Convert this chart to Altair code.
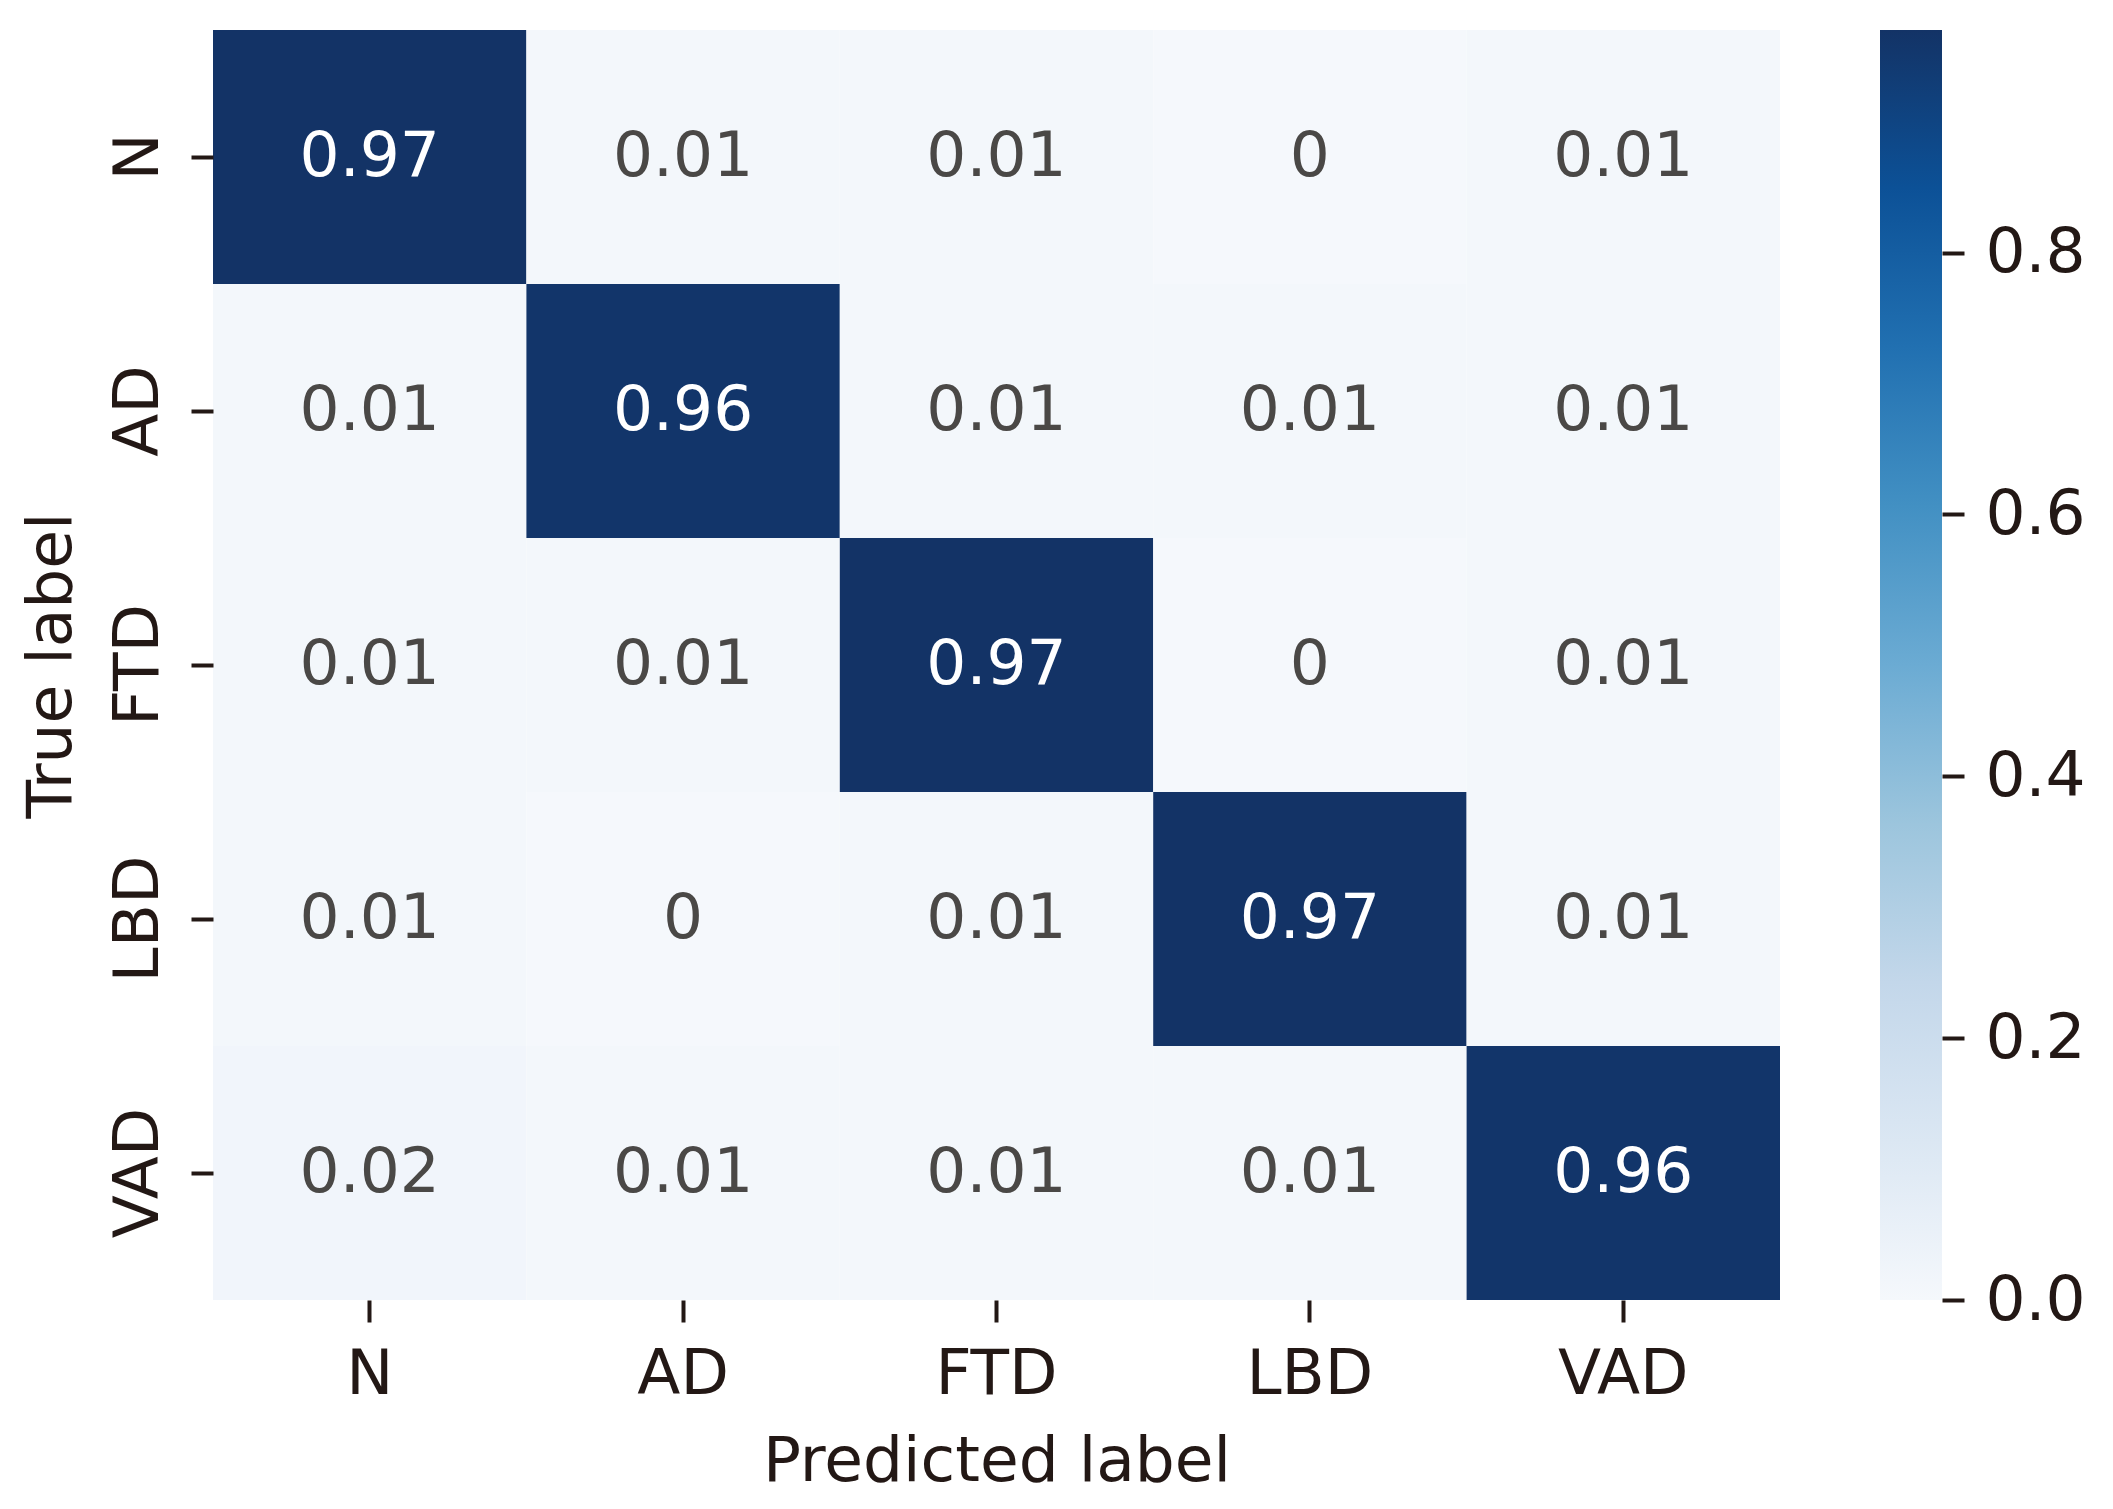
import altair as alt
import pandas as pd

classes = ["N", "AD", "FTD", "LBD", "VAD"]
row_N = [0.97, 0.01, 0.01, 0.00, 0.01]
row_AD = [0.01, 0.96, 0.01, 0.01, 0.01]
row_FTD = [0.01, 0.01, 0.97, 0.00, 0.01]
row_LBD = [0.01, 0.00, 0.01, 0.97, 0.01]
row_VAD = [0.02, 0.01, 0.01, 0.01, 0.96]
rows = [row_N, row_AD, row_FTD, row_LBD, row_VAD]
colorbar_ticks = [0.0, 0.2, 0.4, 0.6, 0.8]
blues = ["#f5f8fc", "#dbe7f3", "#c3d7ea", "#9cc5dd", "#6babd3",
         "#4290c3", "#2170b1", "#0c5197", "#133366"]

records = []
for t, vals in zip(classes, rows):
    for p, v in zip(classes, vals):
        records.append({"true": t, "pred": p, "value": v, "label": f"{v:g}"})
df = pd.DataFrame(records)

vmax = max(max(r) for r in rows)
n = len(blues) - 1
color_domain = [vmax * i / n for i in range(n + 1)]

FONT = "DejaVu Sans"
INK = "#231815"
FS = 63

xenc = alt.X("pred:N", sort=classes,
             scale=alt.Scale(paddingInner=0, paddingOuter=0),
             axis=alt.Axis(title="Predicted label", labelAngle=0, labelPadding=21,
                           titleBaseline="alphabetic", titleY=180))
yenc = alt.Y("true:N", sort=classes,
             scale=alt.Scale(paddingInner=0, paddingOuter=0),
             axis=alt.Axis(title="True label", labelAngle=270, labelAlign="center",
                           labelBaseline="alphabetic", labelPadding=34,
                           titleAngle=270, titleAlign="center", titleBaseline="alphabetic",
                           titleX=-143, titleY=635))

base = alt.Chart(df)
rect = base.mark_rect(strokeWidth=0).encode(
    x=xenc, y=yenc,
    color=alt.Color("value:Q",
                    scale=alt.Scale(domain=color_domain, range=blues, interpolate="rgb"),
                    legend=None),
)
text = base.mark_text(font=FONT, fontSize=FS, baseline="middle").encode(
    x=xenc, y=yenc,
    text="label:N",
    color=alt.condition(alt.datum.value > 0.5, alt.value("#ffffff"), alt.value("#4a4846")),
)
heat = alt.layer(rect, text).properties(width=1567, height=1270)

cb_df = pd.DataFrame({"lo": [0.0], "hi": [vmax]})
gradient = alt.LinearGradient(
    gradient="linear",
    stops=[alt.GradientStop(color=c, offset=i / n) for i, c in enumerate(blues)],
    x1=0, x2=0, y1=1, y2=0,
)
colorbar = alt.Chart(cb_df).mark_rect(fill=gradient, strokeWidth=0).encode(
    x=alt.value(0), x2=alt.value(62),
    y=alt.Y("lo:Q", scale=alt.Scale(domain=[0, vmax], nice=False, zero=False),
            axis=alt.Axis(orient="right", values=colorbar_ticks, format=".1f", title=None,
                          labelPadding=21, labelFlush=False, labelOverlap=False,
                          labelBaseline="middle")),
    y2="hi:Q",
).properties(width=62, height=1270)

chart = alt.hconcat(heat, colorbar, spacing=100).properties(
    padding={"left": 12, "top": 22, "right": 5, "bottom": 5},
    background="white",
).configure_view(stroke=None).configure_axis(
    domain=False, grid=False,
    tickColor=INK, tickWidth=4, tickSize=22,
    labelFont=FONT, labelFontSize=FS, labelColor=INK,
    titleFont=FONT, titleFontSize=FS, titleFontWeight="normal", titleColor=INK,
)

chart.save("out.html", embed_options={"renderer": "svg", "actions": False})
